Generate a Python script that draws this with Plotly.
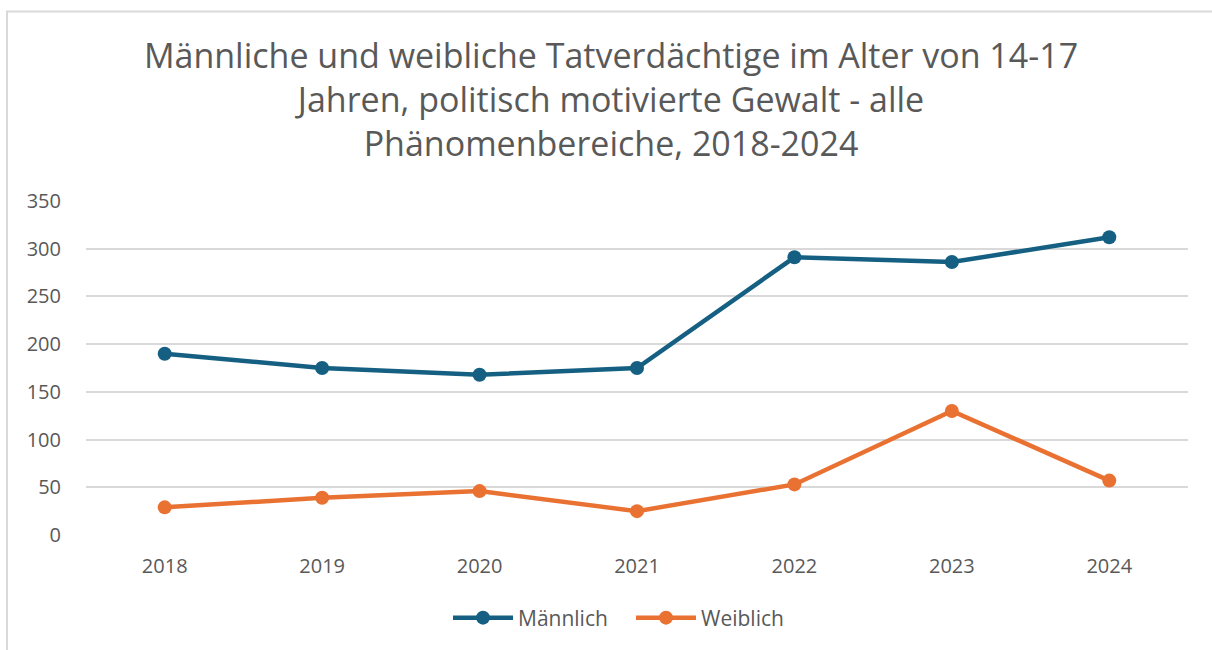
import plotly.graph_objects as go

years = ["2018", "2019", "2020", "2021", "2022", "2023", "2024"]
maennlich = [190, 175, 168, 175, 291, 286, 312]
weiblich = [29, 39, 46, 25, 53, 130, 57]
y_ticks = [0, 50, 100, 150, 200, 250, 300, 350]

title_text = ("Männliche und weibliche Tatverdächtige im Alter von 14-17<br>"
              "Jahren, politisch motivierte Gewalt - alle<br>"
              "Phänomenbereiche, 2018-2024")

W, H = 1212, 650
L, R, T, B = 86, 24, 201, 115
pw, ph = W - L - R, H - T - B

def px_to_paper_x(px):
    return (px - L) / pw

def px_to_paper_y(py):
    return (H - B - py) / ph

fig = go.Figure()
fig.add_trace(go.Scatter(x=years, y=maennlich, name="Männlich", mode="lines+markers",
                         line=dict(color="#156082", width=4.5),
                         marker=dict(color="#156082", size=14)))
fig.add_trace(go.Scatter(x=years, y=weiblich, name="Weiblich", mode="lines+markers",
                         line=dict(color="#E97132", width=4.5),
                         marker=dict(color="#E97132", size=14)))

fig.update_layout(
    width=W, height=H,
    margin=dict(l=L, r=R, t=T, b=B),
    paper_bgcolor="white", plot_bgcolor="white",
    font=dict(family="Open Sans, sans-serif", color="#595959"),
    title=dict(text=title_text, x=611 / W, xanchor="center", xref="container",
               y=1 - 68 / H, yanchor="middle",
               font=dict(size=34, color="#595959")),
    xaxis=dict(type="category", range=[-0.5, 6.5], showgrid=False, showline=False,
               ticks="", tickfont=dict(size=20, color="#595959"), ticklabelstandoff=17),
    yaxis=dict(range=[0, 350], tickvals=y_ticks, showgrid=True, gridcolor="#D9D9D9",
               gridwidth=1.5, zeroline=False, showline=False, ticks="",
               tickfont=dict(size=20, color="#595959"), ticklabelstandoff=24),
    legend=dict(orientation="h", x=px_to_paper_x(631), xanchor="center", y=px_to_paper_y(618),
                yanchor="middle", font=dict(size=21, color="#595959"),
                itemwidth=60, entrywidth=108),
    showlegend=True,
)

# chart card border (left and top)
fig.add_shape(type="line", xref="paper", yref="paper",
              x0=px_to_paper_x(7), x1=px_to_paper_x(7),
              y0=px_to_paper_y(11.5), y1=px_to_paper_y(H + 5),
              line=dict(color="#D9D9D9", width=2))
fig.add_shape(type="line", xref="paper", yref="paper",
              x0=px_to_paper_x(6), x1=px_to_paper_x(W + 5),
              y0=px_to_paper_y(11.5), y1=px_to_paper_y(11.5),
              line=dict(color="#D9D9D9", width=2))

fig.write_html("out.html", config={"displayModeBar": False},
               post_script="document.body.style.margin='0';")
